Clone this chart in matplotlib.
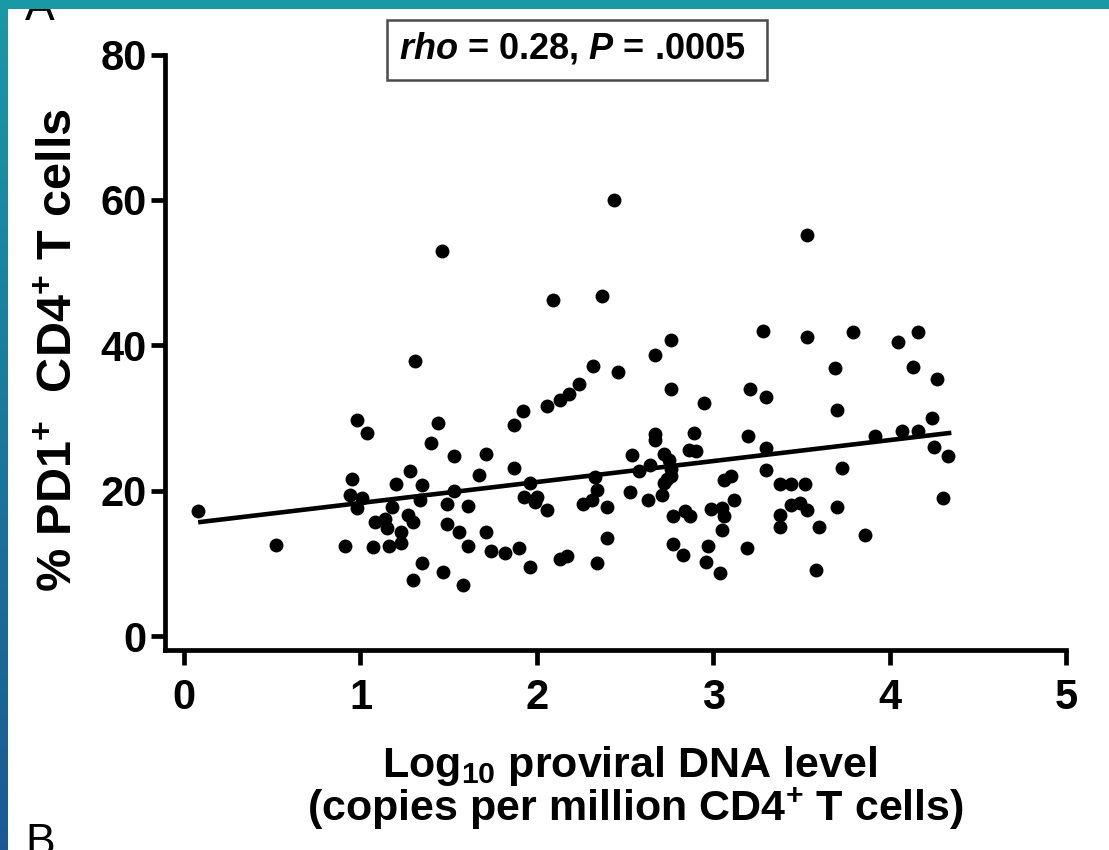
import numpy as np
import matplotlib
matplotlib.use("Agg")
import matplotlib.pyplot as plt
from matplotlib.patches import Rectangle

plt.rcParams['font.family'] = ['Liberation Sans', 'DejaVu Sans']
plt.rcParams['mathtext.fontset'] = 'custom'
plt.rcParams['mathtext.rm'] = 'Liberation Sans:bold'
plt.rcParams['mathtext.bf'] = 'Liberation Sans:bold'
plt.rcParams['mathtext.it'] = 'Liberation Sans:italic:bold'

# ---- data ----
log_dna = [0.08, 0.52, 0.91, 0.98, 1.04, 0.95, 0.94, 1.01, 0.98, 1.07,
           1.08, 1.14, 1.15, 1.16, 1.23, 1.23, 1.18, 1.20, 1.28, 1.35,
           1.34, 1.27, 1.30, 1.35, 1.30, 1.44, 1.40, 1.53, 1.53, 1.49,
           1.61, 1.49, 1.56, 1.61, 1.47, 1.58, 1.31, 1.46, 1.92, 1.87,
           2.06, 2.13, 1.71, 1.67, 1.87, 1.96, 1.93, 2.00, 1.99, 2.06,
           2.26, 2.31, 2.33, 2.34, 1.71, 1.74, 1.82, 1.90, 1.96, 2.13,
           2.17, 2.34, 2.44, 2.09, 2.37, 2.76, 2.67, 2.32, 2.46, 2.24,
           2.18, 2.76, 2.95, 3.21, 3.20, 2.67, 2.67, 2.89, 2.86, 2.90,
           2.54, 2.72, 2.75, 2.64, 2.58, 2.76, 2.76, 2.74, 2.72, 2.71,
           2.63, 2.53, 2.40, 2.40, 2.77, 2.84, 2.87, 2.77, 2.83, 2.97,
           2.96, 3.04, 2.99, 3.05, 3.06, 3.05, 3.06, 3.30, 3.70, 3.30,
           3.73, 3.10, 3.30, 3.38, 3.44, 3.52, 3.12, 3.44, 3.49, 3.53,
           3.38, 3.38, 3.60, 3.70, 3.19, 3.58, 3.53, 3.28, 3.53, 3.79,
           4.05, 4.16, 3.69, 4.13, 4.27, 3.92, 4.07, 4.16, 4.24, 4.25,
           4.33, 4.30, 3.86]
pd1_pct = [17.2, 12.6, 12.4, 29.7, 28.0, 21.7, 19.5, 19.1, 17.6, 12.3,
           15.7, 16.2, 14.9, 12.4, 14.3, 12.8, 17.8, 21.0, 22.7, 20.8,
           18.8, 16.7, 15.8, 10.1, 7.8, 29.4, 26.6, 24.8, 20.0, 18.2,
           17.9, 15.5, 14.3, 12.4, 8.8, 7.1, 37.8, 53.0, 31.0, 29.1,
           31.7, 32.5, 25.1, 22.2, 23.1, 21.1, 19.2, 19.2, 18.5, 17.4,
           18.2, 18.8, 21.9, 20.1, 14.3, 11.8, 11.5, 12.2, 9.6, 10.7,
           11.1, 10.1, 60.0, 46.3, 46.8, 40.7, 38.7, 37.2, 36.4, 34.7,
           33.3, 34.0, 32.1, 34.0, 27.6, 27.9, 27.0, 28.0, 25.6, 25.5,
           24.9, 25.1, 24.3, 23.6, 22.7, 23.0, 22.0, 21.7, 21.1, 19.5,
           18.7, 19.9, 17.8, 13.5, 16.6, 17.2, 16.5, 12.7, 11.2, 12.4,
           10.3, 8.7, 17.5, 17.6, 16.5, 14.6, 21.5, 32.9, 31.2, 25.9,
           23.1, 22.0, 22.9, 21.0, 21.0, 21.0, 18.8, 18.1, 18.4, 17.4,
           16.7, 15.0, 15.0, 17.8, 12.1, 9.1, 55.2, 42.0, 41.2, 41.8,
           40.5, 41.8, 36.9, 37.0, 35.4, 27.6, 28.2, 28.2, 30.0, 26.0,
           24.8, 19.1, 14.0]
fit_x = [0.08, 4.35]
fit_y = [15.7, 28.0]
x_ticks = [0, 1, 2, 3, 4, 5]
y_ticks = [0, 20, 40, 60, 80]

W, H = 1109, 850
fig = plt.figure(figsize=(W / 100, H / 100), dpi=100)

# background gradient frame
bg = fig.add_axes([0, 0, 1, 1])
bg.set_axis_off()
top_c = np.array([0.10, 0.60, 0.65])
bot_c = np.array([0.10, 0.35, 0.58])
t = np.linspace(0, 1, 256)[:, None, None]
grad = top_c * (1 - t) + bot_c * t
grad = np.repeat(grad, 4, axis=1)
bg.imshow(grad, extent=[0, 1, 0, 1], aspect='auto', origin='upper')
bg.set_xlim(0, 1)
bg.set_ylim(0, 1)

# white panel
panel = fig.add_axes([8 / W, 0, 1 - 8 / W, (H - 9) / H])
panel.set_facecolor('white')
panel.set_xticks([])
panel.set_yticks([])
for s in panel.spines.values():
    s.set_visible(False)
panel.set_xlim(0, W - 8)
panel.set_ylim(0, H - 9)
panel.text(25 - 8, H - 20, 'A', fontsize=32, va='baseline', ha='left',
           clip_on=True)
panel.text(25 - 8, H - 823, 'B', fontsize=32, va='top', ha='left',
           clip_on=True)

# main axes
ax = fig.add_axes([165 / W, 200 / H, 901 / W, 595.5 / H])
ax.set_facecolor('none')
ax.scatter(log_dna, pd1_pct, s=100, color='black', linewidths=0, zorder=3)
ax.plot(fit_x, fit_y, color='black', lw=3.3, solid_capstyle='butt', zorder=2)
ax.set_xlim(-0.108, 5.0)
ax.set_ylim(-1.86, 80)
ax.set_xticks(x_ticks)
ax.set_yticks(y_ticks)
for side in ['top', 'right']:
    ax.spines[side].set_visible(False)
for side in ['left', 'bottom']:
    ax.spines[side].set_linewidth(3.4)
    ax.spines[side].set_capstyle('projecting')
ax.tick_params(axis='both', direction='out', width=3.4, labelsize=30)
ax.tick_params(axis='y', length=10, pad=3)
ax.tick_params(axis='x', length=11, pad=9)
for lab in ax.get_xticklabels() + ax.get_yticklabels():
    lab.set_fontweight('bold')

# axis labels
fig.text(630 / W, (H - 777) / H, r'Log$_{10}$ proviral DNA level',
         fontsize=31, fontweight='bold', ha='center', va='baseline')
fig.text(636 / W, (H - 821) / H, r'(copies per million CD4$^{+}$ T cells)',
         fontsize=31, fontweight='bold', ha='center', va='baseline')
fig.text(60 / W, (H - 350) / H, r'% PD1$^{+}$  CD4$^{+}$ T cells',
         fontsize=35, fontweight='bold', ha='center', va='center',
         rotation=90)

# statistics box
fig.patches.append(Rectangle((387 / W, (H - 80) / H), 380 / W, 60 / H,
                             transform=fig.transFigure, facecolor='white',
                             edgecolor='#4a4a4a', lw=1.8, zorder=5))
fig.text(572 / W, (H - 48) / H, r'$rho$ = 0.28, $P$ = .0005', fontsize=26,
         fontweight='bold', ha='center', va='center', zorder=6)

fig.savefig('out.png', dpi=100)
